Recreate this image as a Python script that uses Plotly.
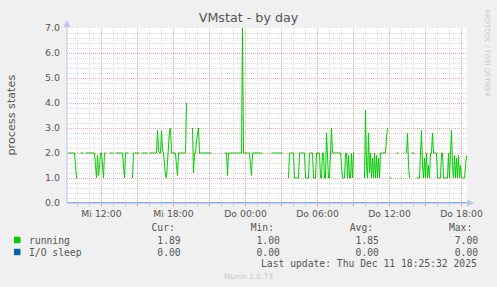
import plotly.graph_objects as go
import pandas as pd

N = None
# running processes, one value per 5 minutes (Wed 09:10 .. Thu 18:25)
running_a = [2, 2, 2, 2, 2, 2, 2, 2, 1.5, 1, 1, N, N, 2, 2, 2, 2, N, 2, 2, 2, 2, 2, 2, 2, 2, 2,
             2, 1.5, 1, 1.9, 1.1, 1.5, 2, 2, 1.4, 1, 2, 2, 2, N, N, 2, 2, 2, 2, 2, N,
             2, 2, 2, 2, 2, 2, 2, 2, 1.5, 1, 2, 2, 2, 2, N, N, N, 1,
             2, 2, 2, 2, 2, 2, 2, N, 2, 2, 2, 2, 2, 2, 2, N, 2, 2, 2, 2, 2, 2, 2, 2,
             2.9, 2.1, 2, 2, 2.9, 2.1, 2, 1.5, 1.1, 1]
running_b = [1.6, 2.3, 2.9, 3, 2, 2, 2, 2, 2, 1.5, 1.1, 2, 2, 2, 2, 2, 2, 2, 2, 4,
             N, N, N, N, N, 3, 1.2, 2, 2, 2.5, 2.9, 3, 2,
             2, 2, 2, 2, 2, 2, 2, 2, 2, 2, 2, 2, N, N, N, N, N, N, N, N, 1, 1, N, N,
             2, 2, 2, 1.1, 2, 2, 2, 2, 2, 2, 2, 2, 2, 2, 2, 2, 2, 2, 7, 2,
             2, 2, 2, 2, 2, 2, 1.5, 1.1, 2, 2, 2, 2, 2, 2, 2, 2, 2, 2, 2, N, N, N, N]
running_c = [N, 3, 3, N, 2, 2, 2, 2, 2, 2, 2, 2, 2, 2, 2, 2, N, N, N, N, N, 1,
             2, 2, 2, 2, 2, 1, 1, 1, 1, 1, 2, 2, 2, 2, 2, 2, 1, 1, 1, 1, 2, 2, 2, 2,
             1, 1, 1, 2, 2, 2, 2, 1, 1, 2, 2, 1, 1, 2.8, 1.4, 1, 1, 2.6, 3,
             2, 2, 2, 2, 2, 2, 2, 2, 2, 1.5, 1, 1, 1, 2, 2, 1, 1.9, 1, 1, 2, 1, 2, 2,
             N, N, N, N, N, N, N, N, N, 1, 3.7, 1.5]
running_d = [1, 2.8, 1.2, 2, 1, 1.8, 1, 2, 1, 1.9, 1, 1.8, 1, 2, 2, 2, 2, 2, 2, 2.6, 3,
             N, 1, 1, 1, N, N, N, N, 2, 2, 2, N, 1, 1, N, 2, 2, N, 2, 2.8, 1.5, 1, N,
             2, 2, 2, 2, N, 1, 1, 1, 1,
             2, 2.9, 1.5, 1, 1.8, 1, 2, 1, 1.5, 1, 2, 2, 2.8, 2, 2, 2, 2,
             1, 1, 1, 1, 2, 2, 1, 1, 1, 1, 1, 2, 1, 2, 2.9, 1.5, 1, 1.9, 1, 1.8, 1,
             1.9, 1, 1.5, 1, 1, 1, 1, 1.5, 1.89]
running = running_a + running_b + running_c + running_d
io_sleep = [0.0] * len(running)

start_time = "2025-12-10 09:10"
times = pd.date_range(start_time, periods=len(running), freq="5min")

tick_times = pd.date_range("2025-12-10 12:00", "2025-12-11 18:00", freq="3h")
tick_text = ["Mi 12:00", "", "Mi 18:00", "", "Do 00:00", "", "Do 06:00", "", "Do 12:00", "", "Do 18:00"]
y_ticks = [0, 1, 2, 3, 4, 5, 6, 7]
y_text = ["0.0", "1.0", "2.0", "3.0", "4.0", "5.0", "6.0", "7.0"]

series_names = ["running", "I/O sleep"]
series_colors = ["#00CC00", "#0066B3"]
cur_vals = ["1.89", "0.00"]
min_vals = ["1.00", "0.00"]
avg_vals = ["1.85", "0.00"]
max_vals = ["7.00", "0.00"]
last_update = "Last update: Thu Dec 11 18:25:32 2025"

W, H = 497, 287
L, R, T, B = 67, 467, 28, 203


def px(x):
    return (x - L) / (R - L)


def py(y):
    return (B - y) / (B - T)


fig = go.Figure()
fig.add_trace(go.Scatter(x=times, y=io_sleep, mode="lines", line=dict(color=series_colors[1], width=1),
                         connectgaps=False, hoverinfo="skip"))
fig.add_trace(go.Scatter(x=times, y=running, mode="lines", line=dict(color=series_colors[0], width=1),
                         connectgaps=False, hoverinfo="skip"))

half = pd.Timedelta(minutes=2.5)
grid_red = "#F2A6A6"
grid_grey = "#DADADA"
font_col = "#555555"

fig.update_layout(
    width=W, height=H,
    margin=dict(l=L, r=W - R, t=T, b=H - B),
    paper_bgcolor="#F0F0F0",
    plot_bgcolor="#FFFFFF",
    showlegend=False,
    font=dict(family="DejaVu Sans", color=font_col, size=9.4),
    title=dict(text="VMstat - by day", x=0.5, xref="container", xanchor="center",
               y=1 - 18 / H, yref="container", yanchor="middle",
               font=dict(family="DejaVu Sans", size=12.7, color=font_col)),
    xaxis=dict(
        type="date",
        range=[times[0] - half, times[-1] + half],
        tickmode="array", tickvals=list(tick_times), ticktext=tick_text,
        showgrid=True, gridcolor=grid_red, griddash="1px,1px", gridwidth=1,
        ticks="outside", ticklen=2, tickcolor="#F08080", tickwidth=1,
        tickfont=dict(size=9.3, color=font_col),
        showline=False, zeroline=False,
        minor=dict(dtick=3600000, tick0="2025-12-10 00:00", showgrid=True,
                   gridcolor=grid_grey, griddash="1px,1px", gridwidth=1,
                   ticks="outside", ticklen=2, tickcolor="#C8C8C8"),
    ),
    yaxis=dict(
        range=[0, 7],
        tickmode="array", tickvals=y_ticks, ticktext=y_text,
        showgrid=True, gridcolor=grid_red, griddash="1px,1px", gridwidth=1,
        ticks="", ticklabelstandoff=6,
        tickfont=dict(size=9.4, color=font_col),
        showline=False, zeroline=False,
        minor=dict(dtick=0.2, tick0=0, showgrid=True, gridcolor=grid_grey,
                   griddash="1px,1px", gridwidth=1),
    ),
)

axis_col = "#B8C4F0"
shapes = [
    dict(type="line", xref="paper", yref="paper", x0=0, x1=0, y0=0, y1=py(23),
         line=dict(color=axis_col, width=1)),
    dict(type="path", xref="paper", yref="paper",
         path=f"M {px(63.5)} {py(27)} L {px(70.5)} {py(27)} L {px(67)} {py(20)} Z",
         fillcolor=axis_col, line=dict(width=0)),
    dict(type="line", xref="paper", yref="paper", x0=0, x1=px(471), y0=0, y1=0,
         line=dict(color="#9CAFE2", width=1)),
    dict(type="path", xref="paper", yref="paper",
         path=f"M {px(467)} {py(199.5)} L {px(467)} {py(206.5)} L {px(474)} {py(203)} Z",
         fillcolor=axis_col, line=dict(width=0)),
]
# legend colour boxes
for i, c in enumerate(series_colors):
    yc = 240 + 12 * i
    shapes.append(dict(type="rect", xref="paper", yref="paper",
                       x0=px(14), x1=px(20.5), y0=py(yc + 3.2), y1=py(yc - 3.2),
                       fillcolor=c, line=dict(width=0)))
fig.update_layout(shapes=shapes)

NB = "\u00a0"
mono = dict(family="DejaVu Sans Mono", size=9.7, color=font_col)


def col(s, width):
    return s + NB * (width - len(s))


header = NB * 21 + col("Cur:", 17) + col("Min:", 17) + col("Avg:", 17) + "Max:"
rows = [header]
for i, name in enumerate(series_names):
    rows.append(col(name, 22) + col(cur_vals[i], 17) + col(min_vals[i], 17)
                + col(avg_vals[i], 17) + max_vals[i])

ann = []
for i, r in enumerate(rows):
    ann.append(dict(text=r, x=px(27), y=py(227 + 12.5 * i if i == 0 else 240 + 12 * (i - 1)),
                    xref="paper", yref="paper", xanchor="left", yanchor="middle",
                    showarrow=False, font=mono))
ann.append(dict(text=last_update, x=px(479), y=py(263.5), xref="paper", yref="paper",
                xanchor="right", yanchor="middle", showarrow=False, font=mono))
ann.append(dict(text="Munin 2.0.73", x=px(248), y=py(276), xref="paper", yref="paper",
                xanchor="center", yanchor="middle", showarrow=False,
                font=dict(family="DejaVu Sans", size=7.5, color="#C8C8C8")))
ann.append(dict(text="RRDTOOL / TOBI OETIKER", x=px(486.5), y=py(53), xref="paper", yref="paper",
                xanchor="center", yanchor="middle", showarrow=False, textangle=90,
                font=dict(family="DejaVu Sans", size=6.8, color="#C8C8C8")))
ann.append(dict(text="process states", x=px(11), y=py(114.5), xref="paper", yref="paper",
                xanchor="center", yanchor="middle", showarrow=False, textangle=-90,
                font=dict(family="DejaVu Sans", size=11.2, color=font_col)))
fig.update_layout(annotations=ann)

fig.write_html("out.html")
